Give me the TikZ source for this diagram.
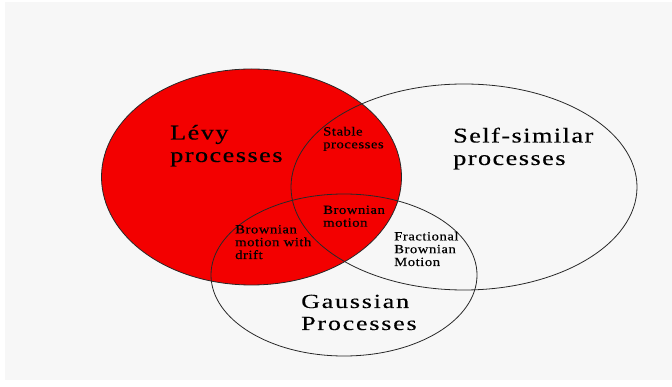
\documentclass[tikz,border=0pt]{standalone}
\usepackage{fontspec}
\setmainfont{Liberation Serif}
\usetikzlibrary{shapes.geometric}
\definecolor{bggray}{RGB}{247,247,247}
\definecolor{levyred}{RGB}{243,0,0}
\definecolor{edge}{RGB}{40,40,40}
\newcommand{\bigtxt}{\fontsize{21}{22.5}\selectfont\addfontfeature{FakeStretch=1.25,LetterSpace=7,FakeBold=0.4}}
\newcommand{\gtxt}{\fontsize{20}{22}\selectfont\addfontfeature{FakeStretch=1.3,LetterSpace=9,FakeBold=0.3}}
\newcommand{\smalltxt}{\fontsize{12.5}{12.8}\selectfont\addfontfeature{FakeStretch=1.18,LetterSpace=4,FakeBold=0.4}}
\tikzset{
  setellipse/.style={ellipse, draw=edge, line width=0.8pt, inner sep=0pt},
  biglabel/.style={anchor=base west, align=left, inner sep=0pt, font=\bigtxt},
  glabel/.style={anchor=base west, align=left, inner sep=0pt, font=\gtxt},
  smalllabel/.style={anchor=base west, align=left, inner sep=0pt, font=\smalltxt}
}
\begin{document}
\begin{tikzpicture}[x=1pt,y=-1pt]
\useasboundingbox (0,0) rectangle (672,387);
\fill[bggray] (5,2) rectangle (672,380);
\node[setellipse, fill=levyred, minimum width=300pt, minimum height=216pt] (levy) at (251.5,177) {};
\node[setellipse, minimum width=346pt, minimum height=206pt] (selfsim) at (464,187) {};
\node[setellipse, minimum width=266pt, minimum height=162pt] (gauss) at (344,275) {};
\node[biglabel] (levytxt) at (170,162) {L\'evy\\processes};
\node[biglabel] (selftxt) at (453,165) {Self-similar\\processes};
\node[glabel] (gausstxt) at (301,330) {Gaussian\\Processes};
\node[smalllabel] (stable) at (323,148.3) {Stable\\processes};
\node[smalllabel] (bm) at (323,226.7) {Brownian\\motion};
\node[smalllabel] (bmdrift) at (235,259) {Brownian\\motion with\\drift};
\node[smalllabel] (fbm) at (394,266) {Fractional\\Brownian\\Motion};
\end{tikzpicture}
\end{document}
